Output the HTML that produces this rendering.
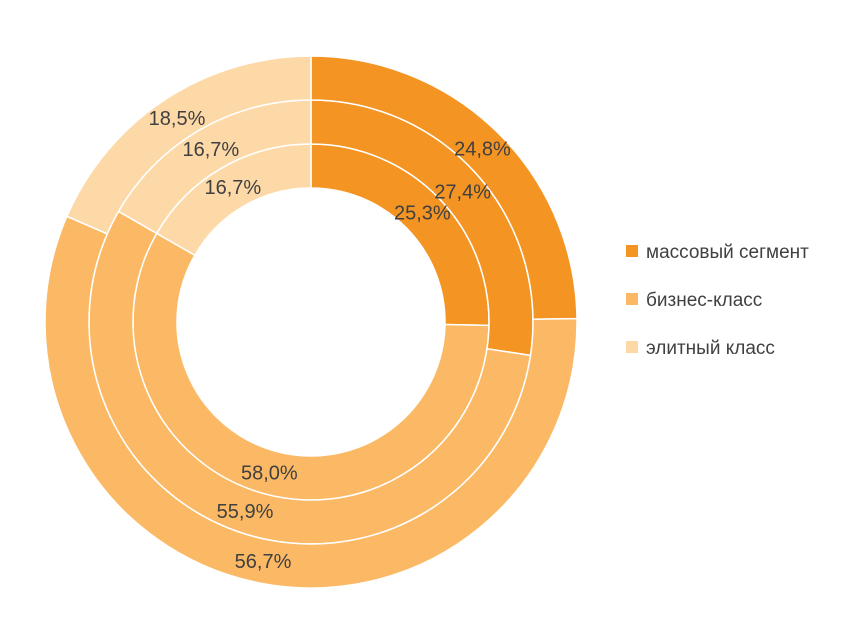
<!DOCTYPE html>
<html><head><meta charset="utf-8"><style>
body{margin:0;background:#fff;}
svg{display:block;font-family:"Liberation Sans","DejaVu Sans",sans-serif;}
</style></head><body>
<svg id="chart" width="852" height="624" viewBox="0 0 852 624">
<g id="rings"></g>
<g id="labels"></g>
<g id="legend"></g>
</svg>
<script>
const categories = ["массовый сегмент","бизнес-класс","элитный класс"];
const innerValues = [25.3, 58.0, 16.7];
const middleValues = [27.4, 55.9, 16.7];
const outerValues = [24.8, 56.7, 18.5];
const series = [innerValues, middleValues, outerValues];
const colors = ["#F39423","#FBB965","#FDD9A8"];
const cx = 311, cy = 322, hole = 134, ringW = 44;
const NS = "http://www.w3.org/2000/svg";
const ringsG = document.getElementById("rings");
const labelsG = document.getElementById("labels");
const legendG = document.getElementById("legend");
function pt(r, frac){const a = frac*2*Math.PI; return [cx + r*Math.sin(a), cy - r*Math.cos(a)];}
function fmt(v){return v.toFixed(1).replace(".", ",") + "%";}
series.forEach((vals, ri) => {
  const r0 = hole + ri*ringW, r1 = r0 + ringW;
  const total = vals.reduce((a,b)=>a+b,0);
  let acc = 0;
  vals.forEach((v, ci) => {
    const f0 = acc/total, f1 = (acc+v)/total; acc += v;
    const large = (f1-f0) > 0.5 ? 1 : 0;
    const [x0,y0]=pt(r1,f0),[x1,y1]=pt(r1,f1),[x2,y2]=pt(r0,f1),[x3,y3]=pt(r0,f0);
    const p = document.createElementNS(NS,"path");
    p.setAttribute("d",`M${x0},${y0}A${r1},${r1} 0 ${large} 1 ${x1},${y1}L${x2},${y2}A${r0},${r0} 0 ${large} 0 ${x3},${y3}Z`);
    p.setAttribute("fill",colors[ci]);
    p.setAttribute("stroke","#fff");
    p.setAttribute("stroke-width","1.5");
    
    
    ringsG.appendChild(p);
    const [lx,ly] = pt((r0+r1)/2, (f0+f1)/2);
    const t = document.createElementNS(NS,"text");
    t.setAttribute("x",lx); t.setAttribute("y",ly+7);
    t.setAttribute("text-anchor","middle");
    t.setAttribute("font-size","20");
    t.setAttribute("fill","#404040");
    t.textContent = fmt(v);
    
    
    labelsG.appendChild(t);
  });
});
categories.forEach((c, i) => {
  const y = 252 + i*48;
  const r = document.createElementNS(NS,"rect");
  r.setAttribute("x",626); r.setAttribute("y",y-7); r.setAttribute("width",12); r.setAttribute("height",12);
  r.setAttribute("fill",colors[i]);
  
  
  legendG.appendChild(r);
  const t = document.createElementNS(NS,"text");
  t.setAttribute("x",646); t.setAttribute("y",y+6);
  t.setAttribute("font-size","19"); t.setAttribute("fill","#404040");
  t.textContent = c;
  
  
  legendG.appendChild(t);
});
</script>
</body></html>
